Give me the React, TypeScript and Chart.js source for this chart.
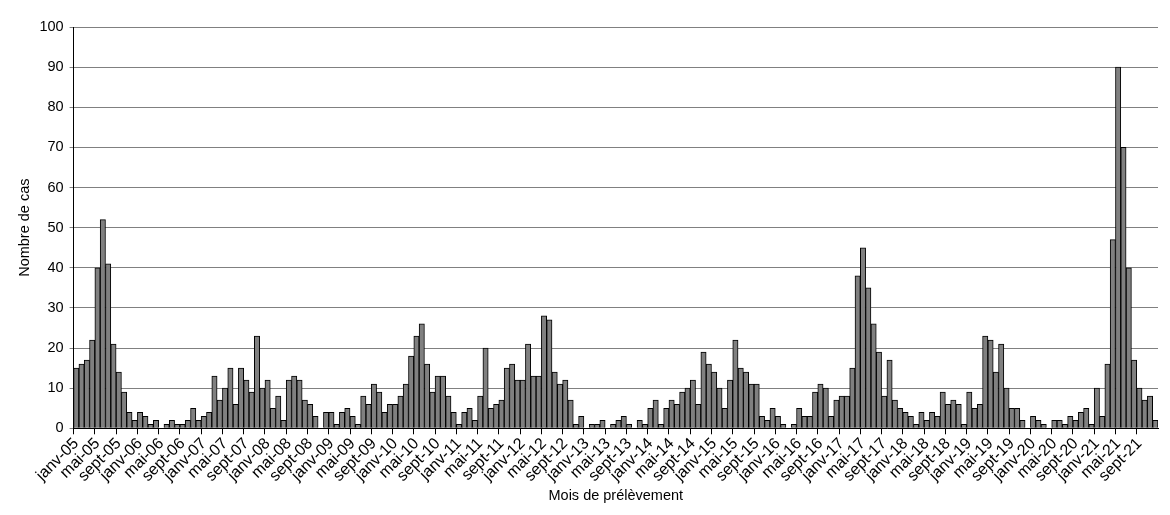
import { useEffect, useRef } from "react";
import { Chart, registerables } from "chart.js";

Chart.register(...registerables);

// mois en abrégé, comme sur l'axe
const moisNoms = ["janv", "févr", "mars", "avr", "mai", "juin", "juil", "août", "sept", "oct", "nov", "déc"];
const annees = ["05", "06", "07", "08", "09", "10", "11", "12", "13", "14", "15", "16", "17", "18", "19", "20", "21"];

// nombre de cas par mois
const cas2005 = [15, 16, 17, 22, 40, 52, 41, 21, 14, 9, 4, 2];
const cas2006 = [4, 3, 1, 2, 0, 1, 2, 1, 1, 2, 5, 2];
const cas2007 = [3, 4, 13, 7, 10, 15, 6, 15, 12, 9, 23, 10];
const cas2008 = [12, 5, 8, 2, 12, 13, 12, 7, 6, 3, 0, 4];
const cas2009 = [4, 1, 4, 5, 3, 1, 8, 6, 11, 9, 4, 6];
const cas2010 = [6, 8, 11, 18, 23, 26, 16, 9, 13, 13, 8, 4];
const cas2011 = [1, 4, 5, 2, 8, 20, 5, 6, 7, 15, 16, 12];
const cas2012 = [12, 21, 13, 13, 28, 27, 14, 11, 12, 7, 1, 3];
const cas2013 = [0, 1, 1, 2, 0, 1, 2, 3, 1, 0, 2, 1];
const cas2014 = [5, 7, 1, 5, 7, 6, 9, 10, 12, 6, 19, 16];
const cas2015 = [14, 10, 5, 12, 22, 15, 14, 11, 11, 3, 2, 5];
const cas2016 = [3, 1, 0, 1, 5, 3, 3, 9, 11, 10, 3, 7];
const cas2017 = [8, 8, 15, 38, 45, 35, 26, 19, 8, 17, 7, 5];
const cas2018 = [4, 3, 1, 4, 2, 4, 3, 9, 6, 7, 6, 1];
const cas2019 = [9, 5, 6, 23, 22, 14, 21, 10, 5, 5, 2, 0];
const cas2020 = [3, 2, 1, 0, 2, 2, 1, 3, 2, 4, 5, 1];
const cas2021 = [10, 3, 16, 47, 90, 70, 40, 17, 10, 7, 8, 2];

const casParMois = [
  ...cas2005, ...cas2006, ...cas2007, ...cas2008, ...cas2009, ...cas2010,
  ...cas2011, ...cas2012, ...cas2013, ...cas2014, ...cas2015, ...cas2016,
  ...cas2017, ...cas2018, ...cas2019, ...cas2020, ...cas2021,
];

const labels = annees.flatMap((a) => moisNoms.map((m) => `${m}-${a}`));

const FONT = "'Liberation Sans', Arial, sans-serif";

const App = () => {
  const canvasRef = useRef<HTMLCanvasElement | null>(null);

  useEffect(() => {
    document.body.style.margin = "0";
    const canvas = canvasRef.current;
    if (!canvas) return;

    const chart = new Chart(canvas, {
      type: "bar",
      data: {
        labels,
        datasets: [
          {
            label: "Nombre de cas",
            data: casParMois,
            backgroundColor: "#808080",
            borderColor: "#000000",
            borderWidth: 1,
            barPercentage: 1,
            categoryPercentage: 1,
          },
        ],
      },
      options: {
        responsive: false,
        animation: false,
        layout: { padding: { top: 27, right: 12, bottom: 10, left: 8 } },
        plugins: {
          legend: { display: false },
          tooltip: { enabled: false },
        },
        scales: {
          x: {
            grid: {
              drawOnChartArea: false,
              tickLength: 6,
              color: (ctx) => (ctx.index % 4 === 0 ? "#000000" : "rgba(0,0,0,0)"),
            },
            border: { color: "#000000" },
            ticks: {
              autoSkip: false,
              maxRotation: 45,
              minRotation: 45,
              color: "#000000",
              font: { family: FONT, size: 16 },
              padding: 0,
              callback: (_v, i) => (i % 4 === 0 ? labels[i] : ""),
            },
            title: {
              display: true,
              text: "Mois de prélèvement",
              color: "#000000",
              font: { family: FONT, size: 14.5 },
              padding: { top: 2, bottom: 0 },
            },
          },
          y: {
            min: 0,
            max: 100,
            ticks: {
              stepSize: 10,
              color: "#000000",
              font: { family: FONT, size: 14.5 },
              padding: 6,
            },
            grid: { color: "#808080", tickLength: 4 },
            border: { color: "#000000" },
            title: {
              display: true,
              text: "Nombre de cas",
              color: "#000000",
              font: { family: FONT, size: 14.5 },
              padding: { top: 8, bottom: 0 },
            },
          },
        },
      },
    });

    return () => {
      chart.destroy();
    };
  }, []);

  return (
    <div style={{ width: 1170, height: 515, background: "#ffffff" }}>
      <canvas ref={canvasRef} width={1170} height={515}></canvas>
    </div>
  );
};

export default App;
